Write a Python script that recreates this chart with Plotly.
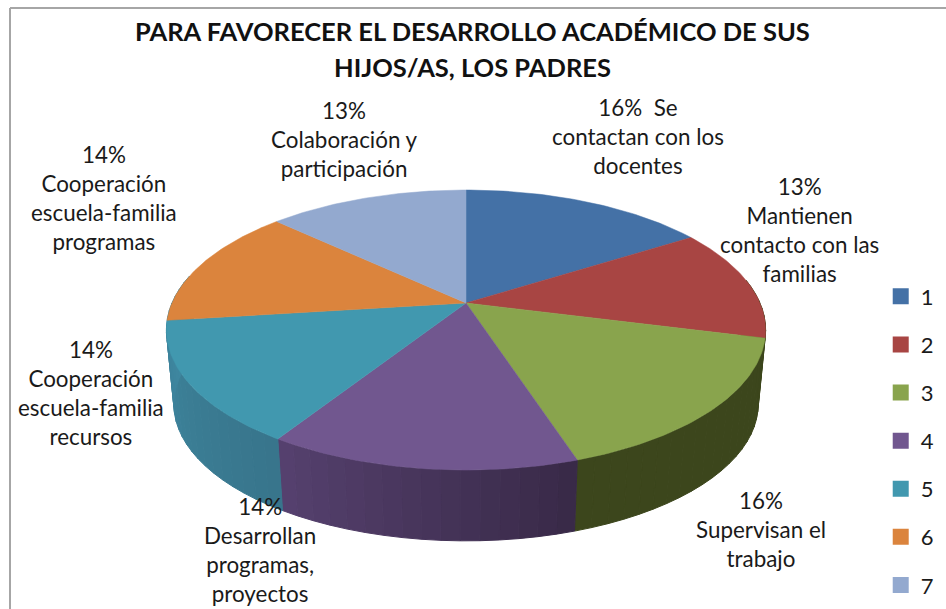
import math
import plotly.graph_objects as go

# ---- data ----
categories = ["1", "2", "3", "4", "5", "6", "7"]
percent = [16, 13, 16, 14, 14, 14, 13]
label_texts = [
    "16%  Se<br>contactan con los<br>docentes",
    "13%<br>Mantienen<br>contacto con las<br>familias",
    "16%<br>Supervisan el<br>trabajo",
    "14%<br>Desarrollan<br>programas,<br>proyectos",
    "14%<br>Cooperación<br>escuela-familia<br>recursos",
    "14%<br>Cooperación<br>escuela-familia<br>programas",
    "13%<br>Colaboración y<br>participación",
]
title_lines = ["PARA FAVORECER EL DESARROLLO ACADÉMICO DE SUS", "HIJOS/AS, LOS PADRES"]

# ---- style ----
top_colors = ["#4471A6", "#A84543", "#89A44D", "#71578F", "#4198AF", "#DB843D", "#93A9CF"]
side_colors = {2: ("#3C461C", "#3C461C"), 3: ("#392A48", "#55406E"), 4: ("#38758C", "#3F8AA3")}
side_span = {2: (80, None), 3: (None, None), 4: (None, 282)}
label_pos = [(638, 136), (799, 230), (761, 529), (260, 550), (91, 393), (104, 198), (344, 139)]
title_y = [31, 67]
FONT = "Lato, Carlito, Calibri, sans-serif"
CX, CY, B, A, K = 466, 303, 294, 134.8, 0.193
DEPTH, SHRINK = 75, 0.975


def project(theta_deg, down=False):
    t = math.radians(theta_deg)
    u, v = math.sin(t), -math.cos(t)
    w = 1 - K * v
    s = SHRINK if down else 1.0
    dy = DEPTH if down else 0
    return CX + s * B * u / w, CY + dy + s * A * v / w


def mix(c1, c2, f):
    a = [int(c1[i:i + 2], 16) for i in (1, 3, 5)]
    b = [int(c2[i:i + 2], 16) for i in (1, 3, 5)]
    return "#%02x%02x%02x" % tuple(round(p + (q - p) * f) for p, q in zip(a, b))


fig = go.Figure()
total = sum(percent)
edges = [0]
for p in percent:
    edges.append(edges[-1] + 360.0 * p / total)

# side wall of the near half of the rim
for i in side_colors:
    lo, hi = side_span[i]
    a0 = edges[i] if lo is None else lo
    a1 = edges[i + 1] if hi is None else hi
    n = max(1, int((a1 - a0) / 3))
    step = (a1 - a0) / n
    for j in range(n):
        th0, th1 = a0 + j * step, a0 + (j + 1) * step
        pts = [project(th0), project(th1), project(th1, down=True), project(th0, down=True)]
        col = mix(side_colors[i][0], side_colors[i][1], j / max(1, n - 1))
        fig.add_trace(go.Scatter(x=[q[0] for q in pts] + [pts[0][0]], y=[q[1] for q in pts] + [pts[0][1]],
                                 mode="lines", fill="toself", fillcolor=col,
                                 line=dict(color=col, width=1), showlegend=False, hoverinfo="skip"))

# top surface
for i, cat in enumerate(categories):
    n = 60
    pts = [(CX, CY)]
    pts += [project(edges[i] + (edges[i + 1] - edges[i]) * j / n) for j in range(n + 1)]
    fig.add_trace(go.Scatter(x=[q[0] for q in pts] + [CX], y=[q[1] for q in pts] + [CY],
                             mode="lines", fill="toself", fillcolor=top_colors[i],
                             line=dict(color=top_colors[i], width=0.5), showlegend=False,
                             name=cat, hovertext=label_texts[i], hoverinfo="text"))

# legend entries
for i, cat in enumerate(categories):
    fig.add_trace(go.Scatter(x=[None], y=[None], mode="markers", name=cat, legendgroup=cat,
                             marker=dict(symbol="square", size=16, color=top_colors[i])))

for text, (x, y) in zip(label_texts, label_pos):
    fig.add_annotation(x=x, y=y, text=text, showarrow=False, align="center",
                       font=dict(family=FONT, size=22.4, color="#1a1a1a"))

for line, y in zip(title_lines, title_y):
    fig.add_annotation(x=472, y=y, text=line, showarrow=False, align="center",
                       font=dict(family=FONT, size=25.5, color="#111111", weight="bold"))

for x0, y0, x1, y1 in [(10, 8, 10, 609), (10, 8, 946, 8)]:
    fig.add_shape(type="line", x0=x0, y0=y0, x1=x1, y1=y1, line=dict(color="#a6a6a6", width=2))

fig.update_layout(
    width=946, height=609, margin=dict(l=0, r=0, t=0, b=0),
    paper_bgcolor="white", plot_bgcolor="white",
    xaxis=dict(range=[0, 946], visible=False, fixedrange=True),
    yaxis=dict(range=[609, 0], visible=False, fixedrange=True),
    legend=dict(x=0.931, y=0.5475, yanchor="top", xanchor="left", tracegroupgap=16.5,
                font=dict(family=FONT, size=22, color="#1a1a1a"), bgcolor="rgba(0,0,0,0)"),
)
fig.write_html("out.html", post_script="document.body.style.margin='0';",
               config={"displayModeBar": False})
